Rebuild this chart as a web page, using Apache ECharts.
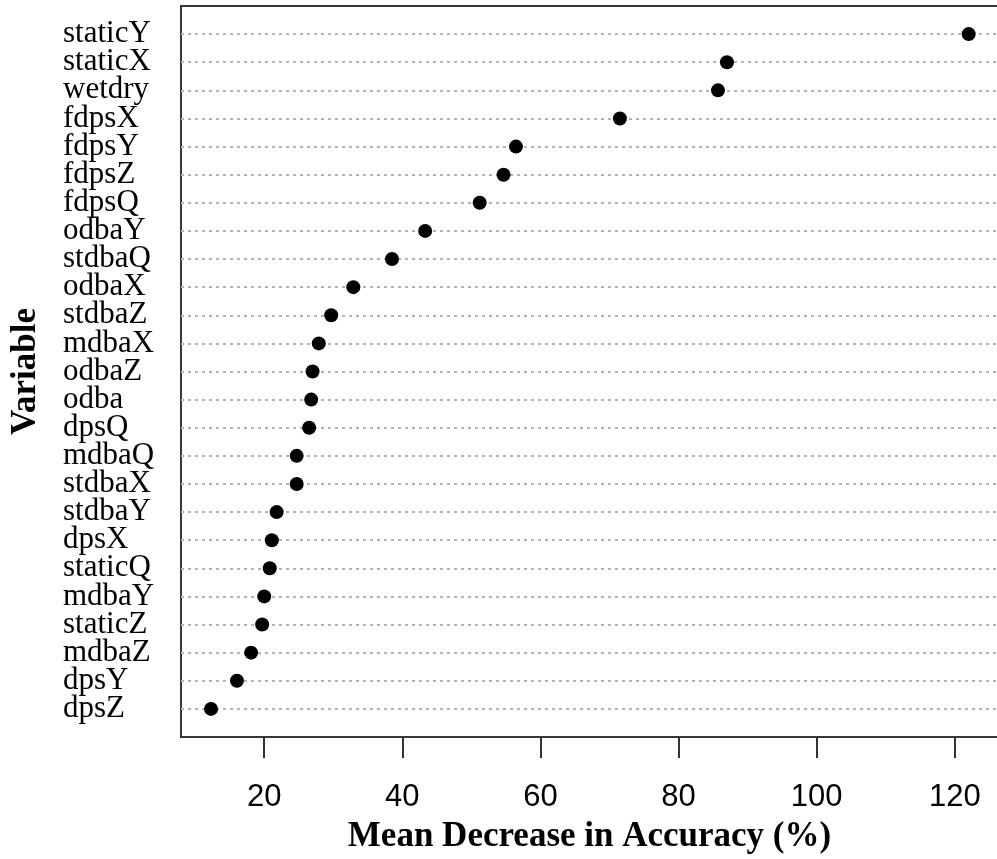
<!DOCTYPE html>
<html>
<head>
<meta charset="utf-8">
<script src="https://cdn.jsdelivr.net/npm/echarts@6/dist/echarts.min.js"></script>
<style>
  html, body { margin: 0; padding: 0; background: #fff; overflow: hidden; }
  /* the frame runs past the right edge of the page, so its right side is not shown */
  #chart { width: 1007px; height: 859px; }
</style>
</head>
<body>
<div id="chart"></div>
<script>
// Variable importance, ordered bottom (least) to top (most)
const variables = [
  'dpsZ', 'dpsY', 'mdbaZ', 'staticZ', 'mdbaY', 'staticQ', 'dpsX', 'stdbaY',
  'stdbaX', 'mdbaQ', 'dpsQ', 'odba', 'odbaZ', 'mdbaX', 'stdbaZ', 'odbaX',
  'stdbaQ', 'odbaY', 'fdpsQ', 'fdpsZ', 'fdpsY', 'fdpsX', 'wetdry', 'staticX', 'staticY'
];
const meanDecreaseAccuracy = [
  12.3, 16.05, 18.1, 19.7, 20.0, 20.8, 21.1, 21.8,
  24.7, 24.7, 26.5, 26.8, 27.0, 27.9, 29.7, 32.9,
  38.5, 43.3, 51.2, 54.65, 56.45, 71.5, 85.7, 87.0, 122.0
];
const xTicks = [20, 40, 60, 80, 100, 120];

// one empty slot at each end gives a full row of padding inside the frame
const rows = [''].concat(variables, ['']);
const points = variables.map((v, i) => [meanDecreaseAccuracy[i], v]);

const chart = echarts.init(document.getElementById('chart'));
chart.setOption({
  animation: false,
  grid: {
    left: 180, top: 6, right: 0, bottom: 122,
    show: true, borderColor: '#383838', borderWidth: 2, backgroundColor: 'transparent'
  },
  xAxis: {
    type: 'value',
    min: 7.95, max: 127.55,
    name: 'Mean Decrease in Accuracy (%)',
    nameLocation: 'middle',
    nameGap: 82,
    nameTextStyle: {
      fontFamily: 'Liberation Serif', fontWeight: 'bold', fontSize: 35, color: '#000',
      padding: [0, 9, 0, 0]
    },
    axisLine: { show: false },
    splitLine: { show: false },
    axisTick: {
      show: true, inside: false, length: 21,
      customValues: xTicks,
      lineStyle: { color: '#333', width: 2 }
    },
    axisLabel: {
      customValues: xTicks,
      margin: 45,
      fontFamily: 'Liberation Sans', fontSize: 31, color: '#000'
    }
  },
  yAxis: {
    type: 'category',
    data: rows,
    boundaryGap: false,
    name: 'Variable',
    nameLocation: 'middle',
    nameRotate: 90,
    nameGap: 138,
    nameTextStyle: { fontFamily: 'Liberation Serif', fontWeight: 'bold', fontSize: 35, color: '#000' },
    axisLine: { show: false },
    axisTick: { show: false },
    axisLabel: {
      interval: 0,
      align: 'left',
      margin: 118,
      padding: [4, 0, 0, 0],
      fontFamily: 'Liberation Serif', fontSize: 31, color: '#000'
    },
    splitLine: {
      show: true,
      interval: (idx) => idx > 0 && idx < rows.length - 1,
      lineStyle: { color: '#b4b4b4', type: [3, 4], width: 2 }
    }
  },
  series: [{
    type: 'scatter',
    data: points,
    symbol: 'circle',
    symbolSize: 14,
    itemStyle: { color: '#000', opacity: 1 }
  }]
});
</script>
</body>
</html>
